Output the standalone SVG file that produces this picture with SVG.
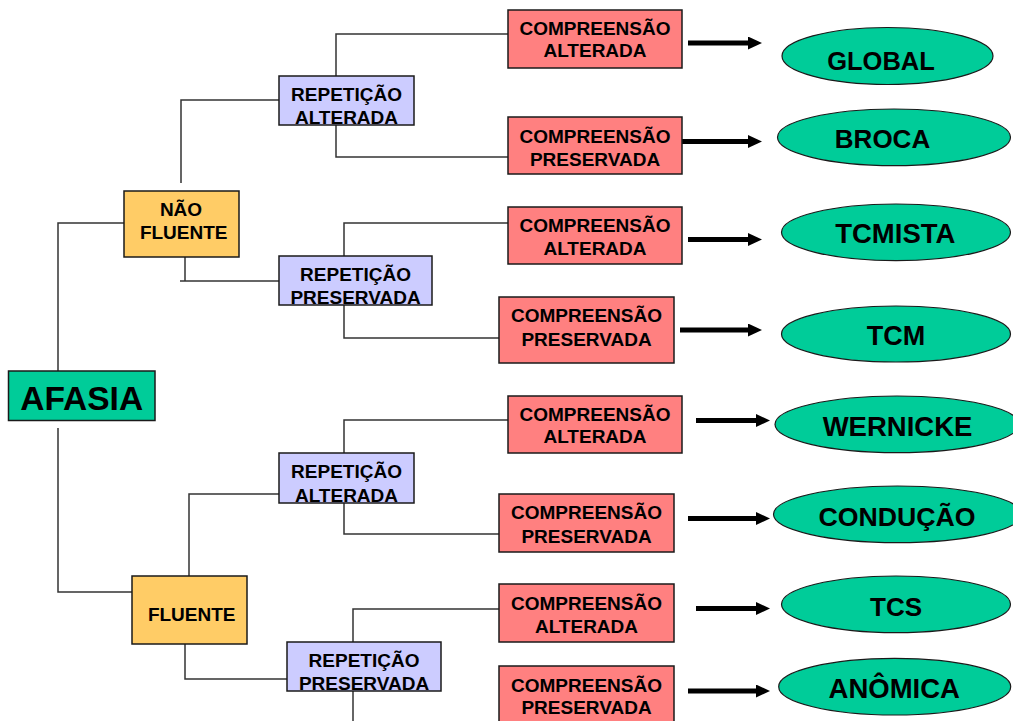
<svg xmlns="http://www.w3.org/2000/svg" width="1013" height="721" viewBox="0 0 1013 721">
<defs>
<style>
.t{font-family:"Liberation Sans",Arial,sans-serif;font-weight:bold;fill:#000;text-anchor:middle}
.s{font-size:19px}
.e{font-size:26.5px}
.box{stroke:#1a1a1a;stroke-width:1.5}
.comp{fill:#FF8080}
.rep{fill:#CCCCFF}
.flu{fill:#FFCC66}
.af{fill:#00CC99}
.ell{fill:#00CC99;stroke:#1a1a1a;stroke-width:1.2}
.ln{fill:none;stroke:#333;stroke-width:1.5}
.ar{fill:none;stroke:#000;stroke-width:5}
</style>
<marker id="ah" markerUnits="userSpaceOnUse" markerWidth="14" markerHeight="13" refX="0" refY="6.5" orient="auto">
<path d="M0,0 L14,6.5 L0,13 Z" fill="#000"/>
</marker>
</defs>
<rect width="1013" height="721" fill="#fff"/>

<g id="connectors">
<polyline class="ln" points="58,371 58,223 124,223"/>
<polyline class="ln" points="58,428 58,592 132,592"/>
<polyline class="ln" points="181,183 181,100 279,100"/>
<polyline class="ln" points="185,257 185,281"/>
<line class="ln" x1="180" y1="281" x2="279" y2="281"/>
<polyline class="ln" points="336,76 336,34 508,34"/>
<polyline class="ln" points="336,125 336,157 508,157"/>
<polyline class="ln" points="344,256 344,223 508,223"/>
<polyline class="ln" points="344,305 344,338 499,338"/>
<polyline class="ln" points="189,576 189,494 279,494"/>
<polyline class="ln" points="185,644 185,679 287,679"/>
<polyline class="ln" points="344,453 344,420 508,420"/>
<polyline class="ln" points="344,503 344,534 499,534"/>
<polyline class="ln" points="353,642 353,609 499,609"/>
<polyline class="ln" points="353,691 353,721"/>
<line class="ar" x1="688" y1="43" x2="748" y2="43" marker-end="url(#ah)"/>
<line class="ar" x1="680" y1="141.5" x2="748" y2="141.5" marker-end="url(#ah)"/>
<line class="ar" x1="688" y1="239.5" x2="748" y2="239.5" marker-end="url(#ah)"/>
<line class="ar" x1="680" y1="330" x2="748" y2="330" marker-end="url(#ah)"/>
<line class="ar" x1="696" y1="420.5" x2="756" y2="420.5" marker-end="url(#ah)"/>
<line class="ar" x1="688" y1="518.5" x2="756" y2="518.5" marker-end="url(#ah)"/>
<line class="ar" x1="696" y1="608.5" x2="756" y2="608.5" marker-end="url(#ah)"/>
<line class="ar" x1="688" y1="691" x2="756" y2="691" marker-end="url(#ah)"/>
</g>

<g id="afasia">
<rect class="box af" x="8.5" y="371" width="146.5" height="49.5"/>
<text class="t" x="81.7" y="410" font-size="33.5">AFASIA</text>
</g>

<g id="nao-fluente">
<rect class="box flu" x="124" y="191" width="115" height="66"/>
<text class="t s" x="181" y="216">NÃO</text>
<text class="t s" x="183.7" y="239">FLUENTE</text>
</g>

<g id="fluente">
<rect class="box flu" x="132" y="576" width="115" height="68"/>
<text class="t s" x="191.7" y="621">FLUENTE</text>
</g>

<g id="rep-alt-1">
<rect class="box rep" x="279" y="76" width="135" height="49"/>
<text class="t s" x="346.5" y="101">REPETIÇÃO</text>
<text class="t s" x="346.5" y="124">ALTERADA</text>
</g>

<g id="rep-pres-1">
<rect class="box rep" x="279" y="256" width="153" height="49"/>
<text class="t s" x="355.5" y="281">REPETIÇÃO</text>
<text class="t s" x="355.5" y="304">PRESERVADA</text>
</g>

<g id="rep-alt-2">
<rect class="box rep" x="279" y="453" width="135" height="50"/>
<text class="t s" x="346.5" y="477.7">REPETIÇÃO</text>
<text class="t s" x="346.5" y="501.7">ALTERADA</text>
</g>

<g id="rep-pres-2">
<rect class="box rep" x="287" y="642" width="154" height="49"/>
<text class="t s" x="364" y="666.7">REPETIÇÃO</text>
<text class="t s" x="364" y="690">PRESERVADA</text>
</g>

<g id="comp-1">
<rect class="box comp" x="508" y="10" width="174" height="58"/>
<text class="t s" x="595" y="35">COMPREENSÃO</text>
<text class="t s" x="595" y="57.3">ALTERADA</text>
</g>
<g id="comp-2">
<rect class="box comp" x="508" y="117" width="174" height="57"/>
<text class="t s" x="595" y="142.7">COMPREENSÃO</text>
<text class="t s" x="595" y="165.7">PRESERVADA</text>
</g>
<g id="comp-3">
<rect class="box comp" x="508" y="207" width="174" height="57"/>
<text class="t s" x="595" y="231.7">COMPREENSÃO</text>
<text class="t s" x="595" y="255">ALTERADA</text>
</g>
<g id="comp-4">
<rect class="box comp" x="499" y="297" width="175" height="66"/>
<text class="t s" x="586.5" y="321.7">COMPREENSÃO</text>
<text class="t s" x="586.5" y="346">PRESERVADA</text>
</g>
<g id="comp-5">
<rect class="box comp" x="508" y="396" width="174" height="57"/>
<text class="t s" x="595" y="421">COMPREENSÃO</text>
<text class="t s" x="595" y="443.3">ALTERADA</text>
</g>
<g id="comp-6">
<rect class="box comp" x="499" y="494" width="175" height="58"/>
<text class="t s" x="586.5" y="519">COMPREENSÃO</text>
<text class="t s" x="586.5" y="542.7">PRESERVADA</text>
</g>
<g id="comp-7">
<rect class="box comp" x="499" y="584" width="175" height="58"/>
<text class="t s" x="586.5" y="610">COMPREENSÃO</text>
<text class="t s" x="586.5" y="632.7">ALTERADA</text>
</g>
<g id="comp-8">
<rect class="box comp" x="499" y="666" width="175" height="64"/>
<text class="t s" x="586.5" y="691.7">COMPREENSÃO</text>
<text class="t s" x="586.5" y="714.3">PRESERVADA</text>
</g>

<g id="global">
<ellipse class="ell" cx="887.5" cy="56" rx="105.5" ry="28.5"/>
<text class="t" x="881" y="70" font-size="25.5">GLOBAL</text>
</g>
<g id="broca">
<ellipse class="ell" cx="894" cy="137.3" rx="116.5" ry="28.3"/>
<text class="t" x="882.5" y="147.7" font-size="26">BROCA</text>
</g>
<g id="tcmista">
<ellipse class="ell" cx="896" cy="232.3" rx="114.5" ry="28.3"/>
<text class="t" x="895.3" y="243.3" font-size="27.5">TCMISTA</text>
</g>
<g id="tcm">
<ellipse class="ell" cx="896" cy="334" rx="114.5" ry="28"/>
<text class="t" x="896" y="345" font-size="27">TCM</text>
</g>
<g id="wernicke">
<ellipse class="ell" cx="897" cy="424.3" rx="122" ry="28.3"/>
<text class="t" x="897.5" y="436" font-size="27.5">WERNICKE</text>
</g>
<g id="conducao">
<ellipse class="ell" cx="897.5" cy="514.3" rx="124" ry="28.3"/>
<text class="t" x="897" y="525.7" font-size="26.7">CONDUÇÃO</text>
</g>
<g id="tcs">
<ellipse class="ell" cx="896" cy="604.3" rx="114.5" ry="28.3"/>
<text class="t" x="896" y="615.7" font-size="26">TCS</text>
</g>
<g id="anomica">
<ellipse class="ell" cx="894.7" cy="686.7" rx="116" ry="28.3"/>
<text class="t" x="894.3" y="697.7" font-size="27.5">ANÔMICA</text>
</g>
</svg>
